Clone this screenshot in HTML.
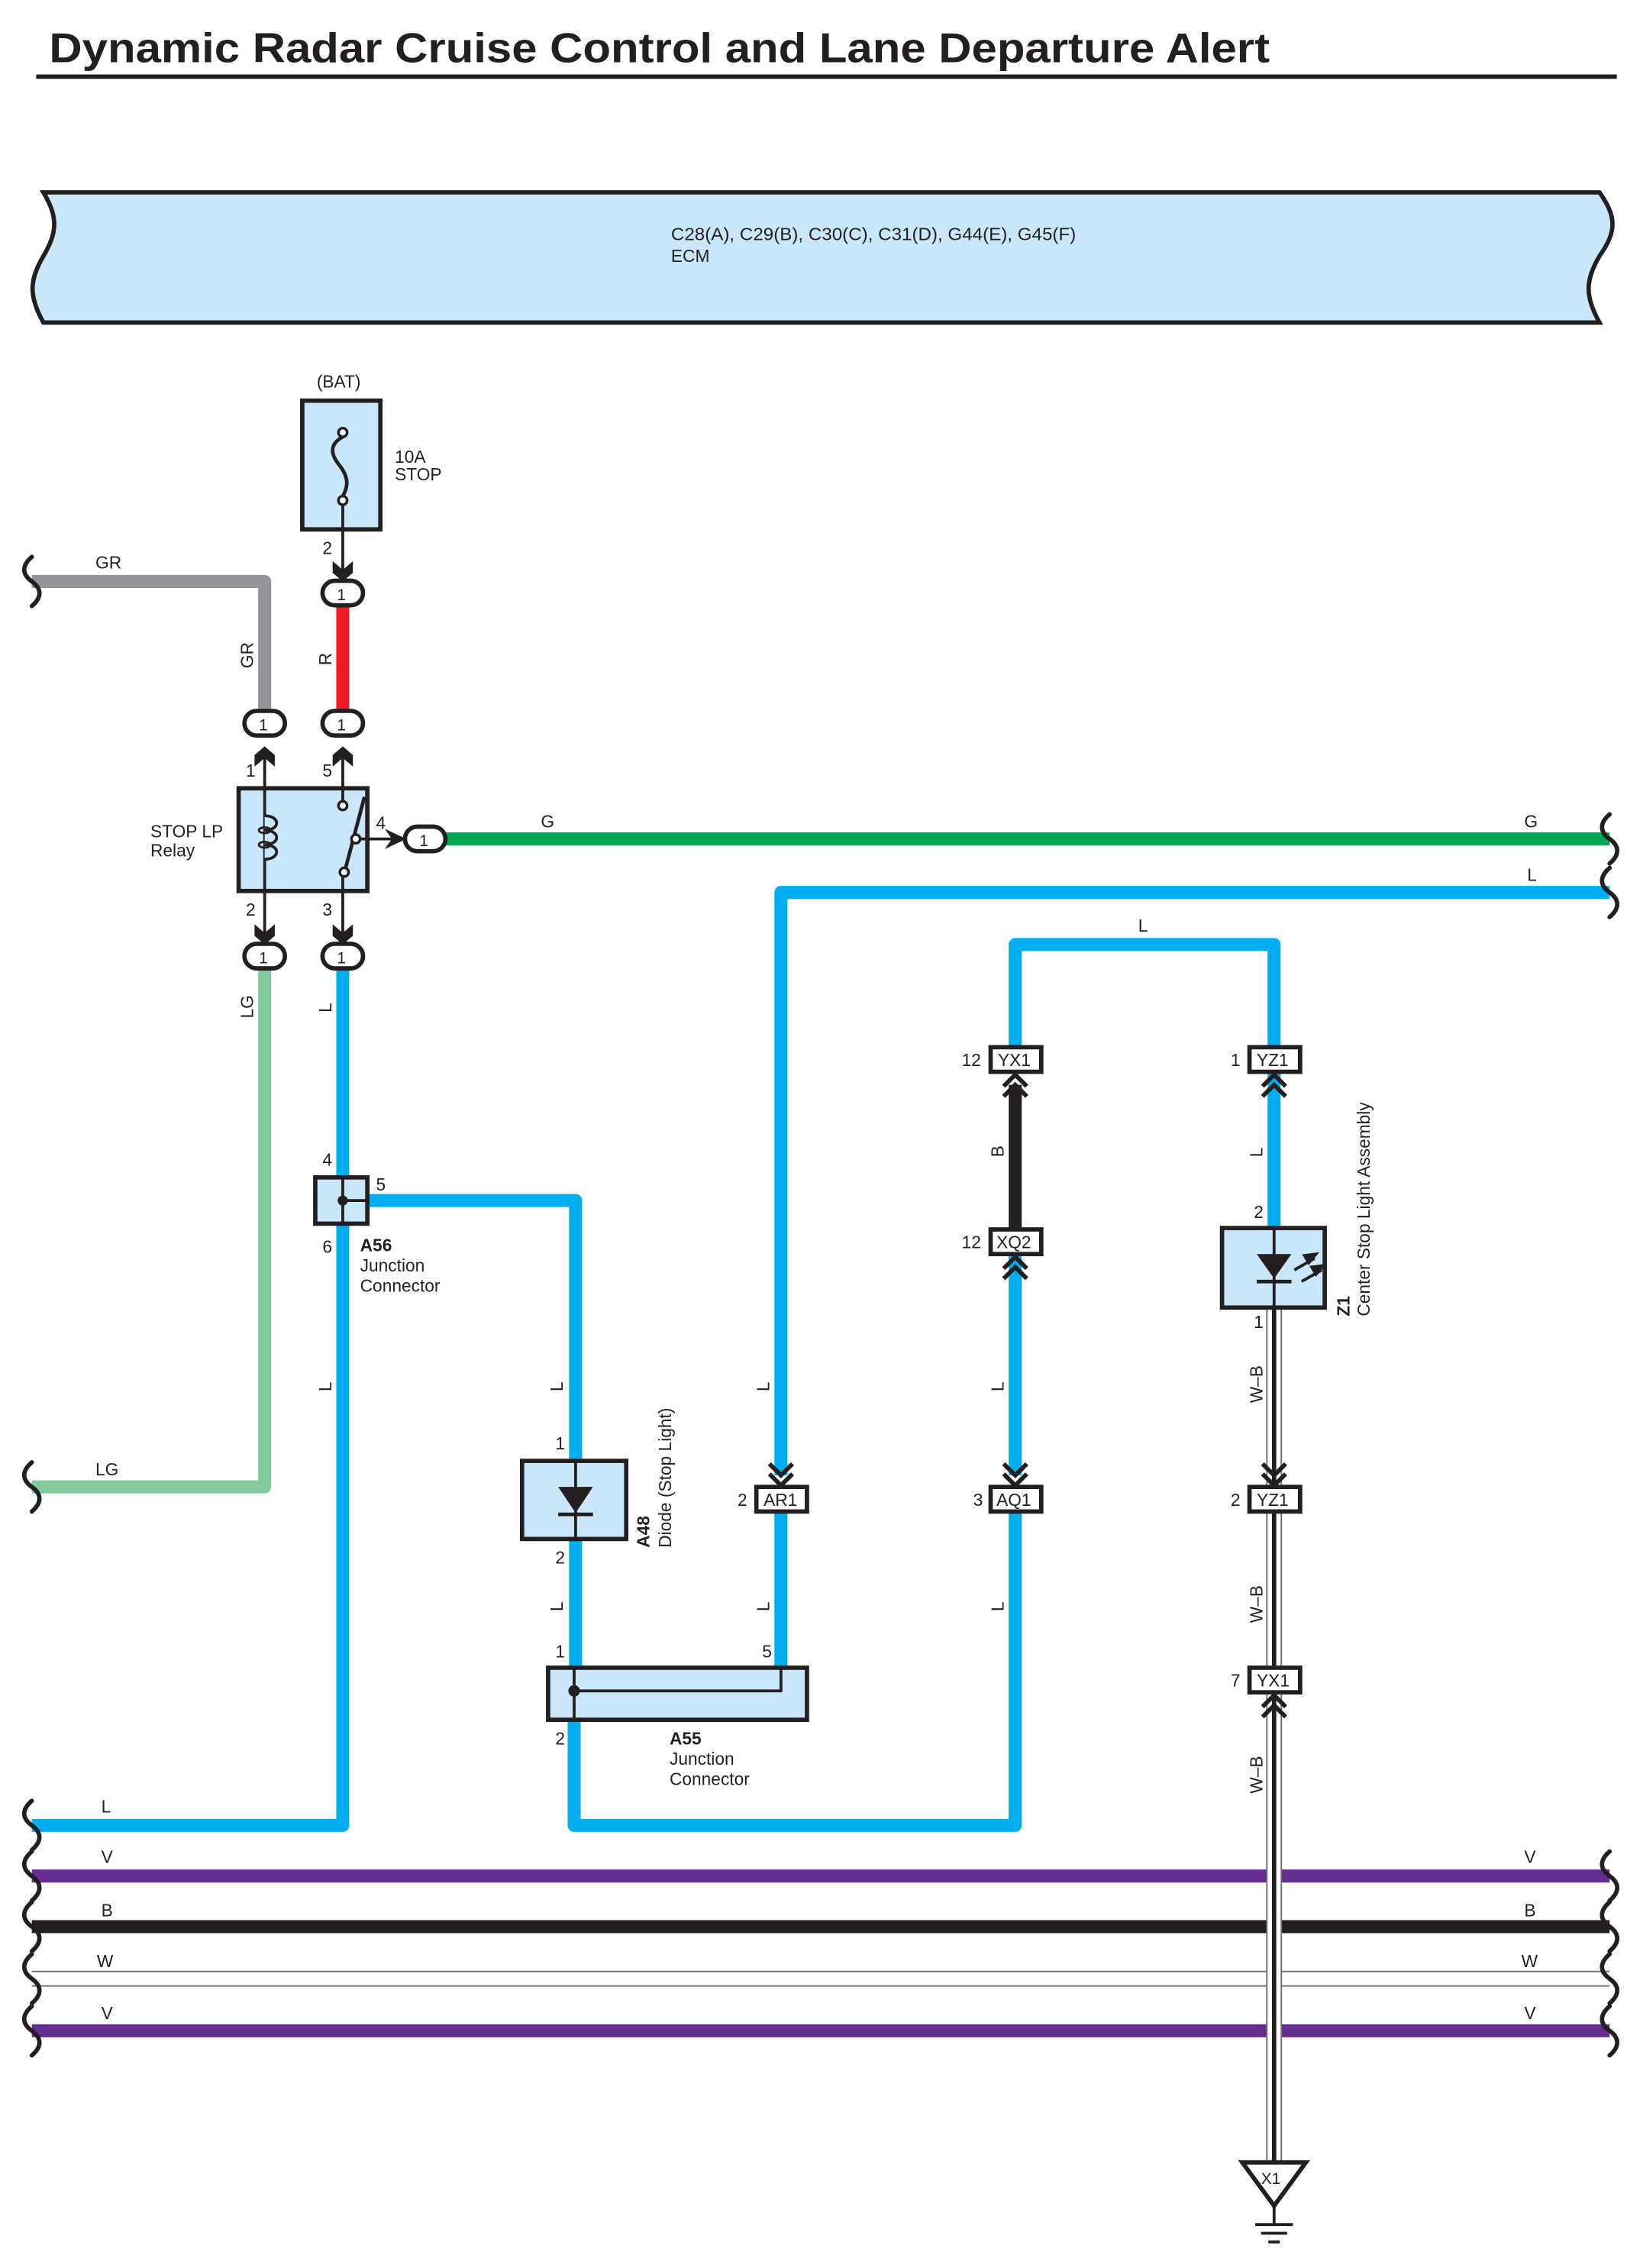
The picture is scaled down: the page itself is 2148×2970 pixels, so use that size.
<!DOCTYPE html>
<html><head><meta charset="utf-8"><style>
html,body{margin:0;padding:0;background:#fff}
svg{display:block}
text{font-family:"Liberation Sans",sans-serif;fill:#231f20}
</style></head><body>
<svg width="2148" height="2970" viewBox="0 0 1134 1568" xmlns="http://www.w3.org/2000/svg">
<defs>
<path id="brk" d="M0,-17 C-7,-11 -7,-5 0,0 C7,5 7,11 0,17" fill="none" stroke="#231f20" stroke-width="3" stroke-linecap="round"/>
<path id="dd" d="M-8,-16 L0,-8 L8,-16 M-8,-9 L0,-1 L8,-9" fill="none" stroke="#231f20" stroke-width="3"/>
<path id="du" d="M-8,16 L0,8 L8,16 M-8,9 L0,1 L8,9" fill="none" stroke="#231f20" stroke-width="3"/>
<path id="ad" d="M-7,-11 L0,-5 L7,-11 L7,-3 L0,3 L-7,-3 Z" fill="#231f20"/>
<path id="au" d="M-7,11 L0,5 L7,11 L7,3 L0,-3 L-7,3 Z" fill="#231f20"/>
<rect id="ov" x="-14" y="-8.5" width="28" height="17" rx="8.5" fill="#fff" stroke="#231f20" stroke-width="3"/>
</defs>

<!-- title -->
<text x="34" y="43" font-size="29" font-weight="bold" textLength="844" lengthAdjust="spacingAndGlyphs">Dynamic Radar Cruise Control and Lane Departure Alert</text>
<line x1="25" y1="53" x2="1118" y2="53" stroke="#231f20" stroke-width="3"/>

<!-- ECM -->
<path d="M30,133 L1106,133 C1118,150 1118,160 1106,177 C1096,194 1096,205 1106,223 L30,223 C20,205 20,194 30,177 C40,160 40,150 30,133 Z" fill="#c9e7f8" stroke="#231f20" stroke-width="3"/>
<text x="464" y="166" font-size="12" textLength="280" lengthAdjust="spacingAndGlyphs">C28(A), C29(B), C30(C), C31(D), G44(E), G45(F)</text>
<text x="464" y="181" font-size="12">ECM</text>

<!-- wires -->
<g fill="none" stroke-width="9" stroke-linejoin="round">
<path d="M22,402 L183,402 L183,494" stroke="#939598"/>
<path d="M237,418 L237,494" stroke="#ed1c24"/>
<path d="M308,580 L1113,580" stroke="#00a651"/>
<path d="M1113,617 L540,617 L540,1020" stroke="#00aeef"/>
<path d="M540,1045 L540,1153" stroke="#00aeef"/>
<path d="M702,725 L702,653 L881,653 L881,725" stroke="#00aeef"/>
<path d="M702,750 L702,850" stroke="#231f20"/>
<path d="M702,866 L702,1020" stroke="#00aeef"/>
<path d="M702,1045 L702,1262 L397,1262 L397,1189" stroke="#00aeef"/>
<path d="M881,742 L881,849" stroke="#00aeef"/>
<path d="M183,670 L183,1028 L22,1028" stroke="#82ca9c"/>
<path d="M237,670 L237,1262 L22,1262" stroke="#00aeef"/>
<path d="M254,830 L398,830 L398,1010" stroke="#00aeef"/>
<path d="M398,1064 L398,1153" stroke="#00aeef"/>
<path d="M22,1297 L1113,1297" stroke="#662d91"/>
<path d="M22,1332 L1113,1332" stroke="#231f20"/>
<path d="M22,1404 L1113,1404" stroke="#662d91"/>
</g>
<line x1="22" y1="1363" x2="1113" y2="1363" stroke="#6d6e71" stroke-width="1"/>
<line x1="22" y1="1373" x2="1113" y2="1373" stroke="#6d6e71" stroke-width="1"/>
<!-- W-B wire -->
<g>
<rect x="876" y="904" width="10" height="590" fill="#fff" stroke="#6d6e71" stroke-width="1"/>
<line x1="881" y1="904" x2="881" y2="1494" stroke="#231f20" stroke-width="3"/>
</g>

<!-- breaks -->
<use href="#brk" x="22" y="402"/>
<use href="#brk" x="22" y="1028"/>
<use href="#brk" x="22" y="1262"/>
<use href="#brk" x="22" y="1297"/>
<use href="#brk" x="22" y="1332"/>
<use href="#brk" x="22" y="1368"/>
<use href="#brk" x="22" y="1404"/>
<use href="#brk" x="1113" y="580"/>
<use href="#brk" x="1113" y="617"/>
<use href="#brk" x="1113" y="1297"/>
<use href="#brk" x="1113" y="1332"/>
<use href="#brk" x="1113" y="1368"/>
<use href="#brk" x="1113" y="1404"/>

<!-- wire labels -->
<g font-size="12">
<text x="66" y="393">GR</text>
<text x="66" y="1020">LG</text>
<text x="70" y="1253">L</text>
<text x="70" y="1288">V</text>
<text x="70" y="1325">B</text>
<text x="67" y="1360">W</text>
<text x="70" y="1396">V</text>
<text x="1054" y="1288">V</text>
<text x="1054" y="1325">B</text>
<text x="1052" y="1360">W</text>
<text x="1054" y="1396">V</text>
<text x="374" y="572">G</text>
<text x="1054" y="572">G</text>
<text x="1056" y="609">L</text>
<text x="787" y="644">L</text>
<text transform="translate(175,462) rotate(-90)">GR</text>
<text transform="translate(229,460) rotate(-90)">R</text>
<text transform="translate(175,704) rotate(-90)">LG</text>
<text transform="translate(229,700) rotate(-90)">L</text>
<text transform="translate(229,962) rotate(-90)">L</text>
<text transform="translate(389,962) rotate(-90)">L</text>
<text transform="translate(389,1114) rotate(-90)">L</text>
<text transform="translate(532,962) rotate(-90)">L</text>
<text transform="translate(532,1114) rotate(-90)">L</text>
<text transform="translate(694,800) rotate(-90)">B</text>
<text transform="translate(694,962) rotate(-90)">L</text>
<text transform="translate(694,1114) rotate(-90)">L</text>
<text transform="translate(873,800) rotate(-90)">L</text>
<text transform="translate(873,970) rotate(-90)">W–B</text>
<text transform="translate(873,1122) rotate(-90)">W–B</text>
<text transform="translate(873,1240) rotate(-90)">W–B</text>
</g>

<!-- fuse -->
<text x="219" y="268" font-size="12">(BAT)</text>
<rect x="209" y="277" width="54" height="89" fill="#c9e7f8" stroke="#231f20" stroke-width="3"/>
<path d="M237,302 C226,308 230,316 235,322 C241,330 241,336 237,343" fill="none" stroke="#231f20" stroke-width="2.5"/>
<circle cx="237" cy="299" r="3" fill="#fff" stroke="#231f20" stroke-width="1.8"/>
<circle cx="237" cy="346" r="3" fill="#fff" stroke="#231f20" stroke-width="1.8"/>
<line x1="237" y1="349" x2="237" y2="400" stroke="#231f20" stroke-width="2"/>
<text x="273" y="320" font-size="12">10A</text>
<text x="273" y="332" font-size="12">STOP</text>
<text x="223" y="383" font-size="12">2</text>
<use href="#ad" x="237" y="399"/>
<use href="#ov" x="237" y="410"/><text x="233" y="415" font-size="11">1</text>

<!-- relay -->
<use href="#ov" x="183" y="500"/><text x="179" y="505" font-size="11">1</text>
<use href="#ov" x="237" y="500"/><text x="233" y="505" font-size="11">1</text>
<use href="#au" x="183" y="519"/>
<use href="#au" x="237" y="519"/>
<line x1="183" y1="520" x2="183" y2="545" stroke="#231f20" stroke-width="2"/>
<line x1="237" y1="520" x2="237" y2="545" stroke="#231f20" stroke-width="2"/>
<text x="170" y="537" font-size="12">1</text>
<text x="223" y="537" font-size="12">5</text>
<rect x="165" y="545" width="89" height="71" fill="#c9e7f8" stroke="#231f20" stroke-width="3"/>
<line x1="183" y1="545" x2="183" y2="616" stroke="#231f20" stroke-width="2"/>
<path d="M183,564 C194,564 194,574 183,574 C194,574 194,584 183,584 C194,584 194,594 183,594" fill="#c9e7f8" stroke="#231f20" stroke-width="2"/>
<ellipse cx="183" cy="574" rx="4" ry="2" fill="none" stroke="#231f20" stroke-width="1.5"/>
<ellipse cx="183" cy="584" rx="4" ry="2" fill="none" stroke="#231f20" stroke-width="1.5"/>
<line x1="237" y1="545" x2="237" y2="555" stroke="#231f20" stroke-width="2"/>
<circle cx="237" cy="557" r="3" fill="#fff" stroke="#231f20" stroke-width="1.8"/>
<line x1="237" y1="605" x2="237" y2="616" stroke="#231f20" stroke-width="2"/>
<circle cx="238" cy="603" r="3" fill="#fff" stroke="#231f20" stroke-width="1.8"/>
<line x1="239" y1="600" x2="252" y2="551" stroke="#231f20" stroke-width="2.5"/>
<circle cx="246" cy="580" r="3" fill="#fff" stroke="#231f20" stroke-width="1.8"/>
<line x1="249" y1="580" x2="272" y2="580" stroke="#231f20" stroke-width="2"/>
<path d="M266,573 L281,580 L266,587 L271,580 Z" fill="#231f20"/>
<text x="260" y="573" font-size="12">4</text>
<use href="#ov" x="294" y="580"/><text x="290" y="585" font-size="11">1</text>
<text x="104" y="579" font-size="12">STOP LP</text>
<text x="104" y="592" font-size="12">Relay</text>
<line x1="183" y1="616" x2="183" y2="645" stroke="#231f20" stroke-width="2"/>
<line x1="237" y1="616" x2="237" y2="645" stroke="#231f20" stroke-width="2"/>
<text x="170" y="633" font-size="12">2</text>
<text x="223" y="633" font-size="12">3</text>
<use href="#ad" x="183" y="650"/>
<use href="#ad" x="237" y="650"/>
<use href="#ov" x="183" y="661"/><text x="179" y="666" font-size="11">1</text>
<use href="#ov" x="237" y="661"/><text x="233" y="666" font-size="11">1</text>

<!-- A56 -->
<rect x="218" y="814" width="36" height="32" fill="#c9e7f8" stroke="#231f20" stroke-width="3"/>
<line x1="237" y1="814" x2="237" y2="846" stroke="#231f20" stroke-width="2"/>
<line x1="237" y1="830" x2="254" y2="830" stroke="#231f20" stroke-width="2"/>
<circle cx="237" cy="830" r="3.5" fill="#231f20"/>
<text x="223" y="806" font-size="12">4</text>
<text x="260" y="823" font-size="12">5</text>
<text x="223" y="866" font-size="12">6</text>
<text x="249" y="865" font-size="12" font-weight="bold">A56</text>
<text x="249" y="879" font-size="12">Junction</text>
<text x="249" y="893" font-size="12">Connector</text>

<!-- A48 diode -->
<text x="384" y="1002" font-size="12">1</text>
<rect x="361" y="1010" width="72" height="54" fill="#c9e7f8" stroke="#231f20" stroke-width="3"/>
<line x1="398" y1="1010" x2="398" y2="1064" stroke="#231f20" stroke-width="2"/>
<path d="M386,1028 L410,1028 L398,1046 Z" fill="#231f20"/>
<line x1="386" y1="1047" x2="410" y2="1047" stroke="#231f20" stroke-width="2.5"/>
<text x="384" y="1081" font-size="12">2</text>
<text transform="translate(449,1070) rotate(-90)" font-size="12" font-weight="bold">A48</text>
<text transform="translate(464,1070) rotate(-90)" font-size="12">Diode (Stop Light)</text>

<!-- A55 -->
<text x="384" y="1146" font-size="12">1</text>
<text x="527" y="1146" font-size="12">5</text>
<rect x="379" y="1153" width="179" height="36" fill="#c9e7f8" stroke="#231f20" stroke-width="3"/>
<path d="M397,1153 L397,1189 M397,1169 L540,1169 L540,1153" fill="none" stroke="#231f20" stroke-width="2"/>
<circle cx="397" cy="1169" r="4" fill="#231f20"/>
<text x="384" y="1206" font-size="12">2</text>
<text x="463" y="1206" font-size="12" font-weight="bold">A55</text>
<text x="463" y="1220" font-size="12">Junction</text>
<text x="463" y="1234" font-size="12">Connector</text>

<!-- small connectors -->
<g font-size="12">
<use href="#dd" x="540" y="1028"/>
<rect x="523" y="1028" width="35" height="17" fill="#fff" stroke="#231f20" stroke-width="3"/>
<text x="528" y="1041">AR1</text><text x="510" y="1041">2</text>

<rect x="685" y="724" width="35" height="17" fill="#fff" stroke="#231f20" stroke-width="3"/>
<text x="690" y="737">YX1</text><text x="665" y="737">12</text>
<use href="#du" x="702" y="742"/>

<rect x="685" y="850" width="35" height="17" fill="#fff" stroke="#231f20" stroke-width="3"/>
<text x="689" y="863">XQ2</text><text x="665" y="863">12</text>
<use href="#du" x="702" y="868"/>

<use href="#dd" x="702" y="1028"/>
<rect x="685" y="1028" width="35" height="17" fill="#fff" stroke="#231f20" stroke-width="3"/>
<text x="689" y="1041">AQ1</text><text x="673" y="1041">3</text>

<rect x="864" y="724" width="35" height="17" fill="#fff" stroke="#231f20" stroke-width="3"/>
<text x="869" y="737">YZ1</text><text x="851" y="737">1</text>
<use href="#du" x="881" y="742"/>

<use href="#dd" x="881" y="1028"/>
<rect x="864" y="1028" width="35" height="17" fill="#fff" stroke="#231f20" stroke-width="3"/>
<text x="869" y="1041">YZ1</text><text x="851" y="1041">2</text>

<rect x="864" y="1153" width="35" height="17" fill="#fff" stroke="#231f20" stroke-width="3"/>
<text x="869" y="1166">YX1</text><text x="851" y="1166">7</text>
<use href="#du" x="881" y="1171"/>
</g>

<!-- Z1 -->
<text x="867" y="842" font-size="12">2</text>
<rect x="845" y="849" width="71" height="55" fill="#c9e7f8" stroke="#231f20" stroke-width="3"/>
<line x1="881" y1="849" x2="881" y2="904" stroke="#231f20" stroke-width="2"/>
<path d="M869,867 L893,867 L881,884 Z" fill="#231f20"/>
<line x1="869" y1="886" x2="893" y2="886" stroke="#231f20" stroke-width="2.5"/>
<path d="M895,878 L909,870 M900,886 L914,878" stroke="#231f20" stroke-width="2"/>
<path d="M910,867 L905,873 L902,868 Z M915,875 L910,881 L907,876 Z" fill="#231f20" stroke="#231f20" stroke-width="2"/>
<text x="867" y="918" font-size="12">1</text>
<text transform="translate(933,910) rotate(-90)" font-size="12" font-weight="bold">Z1</text>
<text transform="translate(947,910) rotate(-90)" font-size="12">Center Stop Light Assembly</text>

<!-- ground -->
<path d="M859,1495 L903,1495 L881,1525 Z" fill="#fff" stroke="#231f20" stroke-width="3"/>
<text x="872" y="1510" font-size="11">X1</text>
<line x1="881" y1="1525" x2="881" y2="1538" stroke="#231f20" stroke-width="2"/>
<line x1="868" y1="1538" x2="894" y2="1538" stroke="#231f20" stroke-width="2"/>
<line x1="872" y1="1544" x2="890" y2="1544" stroke="#231f20" stroke-width="2"/>
<line x1="877" y1="1550" x2="885" y2="1550" stroke="#231f20" stroke-width="2"/>
</svg>
</body></html>
